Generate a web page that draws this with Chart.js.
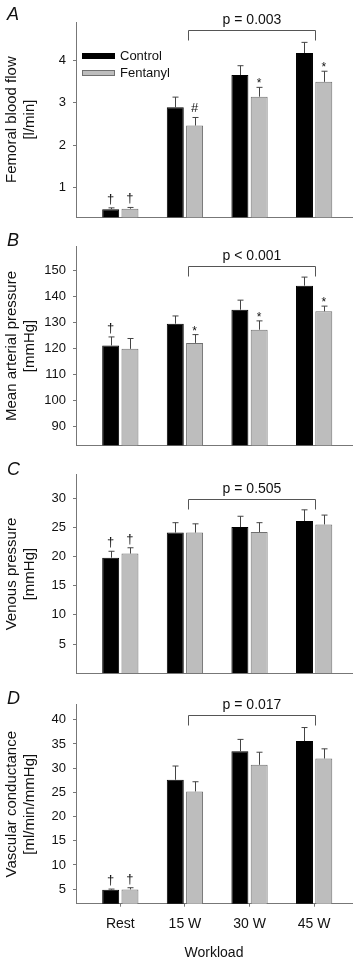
<!DOCTYPE html>
<html>
<head>
<meta charset="utf-8">
<title>Femoral haemodynamics during exercise: Control vs Fentanyl</title>
<script src="https://cdn.jsdelivr.net/npm/chart.js"></script>
<style>
  body { margin: 0; background: #fff; }
  #wrap { position: relative; width: 360px; height: 963px; }
  .panel { position: absolute; left: 0; width: 360px; }
  canvas { display: block; }
</style>
</head>
<body>
<div id="wrap">
  <div class="panel" style="top:0"><canvas id="chartA" width="360" height="232"></canvas></div>
  <div class="panel" style="top:232px"><canvas id="chartB" width="360" height="228"></canvas></div>
  <div class="panel" style="top:460px"><canvas id="chartC" width="360" height="230"></canvas></div>
  <div class="panel" style="top:690px"><canvas id="chartD" width="360" height="273"></canvas></div>
</div>
<script>
const workloads = ['Rest', '15 W', '30 W', '45 W'];
const groupNames = ['Control', 'Fentanyl'];

// A: femoral blood flow [l/min]
const flowControl = [0.49, 2.89, 3.65, 4.17];
const flowControlErr = [0.03, 0.24, 0.22, 0.25];
const flowFentanyl = [0.50, 2.46, 3.14, 3.49];
const flowFentanylErr = [0.03, 0.19, 0.22, 0.25];
const flowMarksControl = ['†', '', '', ''];
const flowMarksFentanyl = ['†', '#', '*', '*'];
const flowTicks = [1, 2, 3, 4];
const flowP = 'p = 0.003';

// B: mean arterial pressure [mmHg]
const mapControl = [121.1, 129.5, 134.9, 144.2];
const mapControlErr = [3.3, 3.0, 3.7, 3.3];
const mapFentanyl = [119.8, 122.1, 127.2, 134.3];
const mapFentanylErr = [4.0, 3.2, 3.4, 2.0];
const mapMarksControl = ['†', '', '', ''];
const mapMarksFentanyl = ['', '*', '*', '*'];
const mapTicks = [90, 100, 110, 120, 130, 140, 150];
const mapP = 'p < 0.001';

// C: venous pressure [mmHg]
const vpControl = [19.8, 24.1, 25.05, 26.1];
const vpControlErr = [1.1, 1.7, 1.85, 1.9];
const vpFentanyl = [20.5, 24.1, 24.2, 25.5];
const vpFentanylErr = [1.0, 1.5, 1.6, 1.6];
const vpMarksControl = ['†', '', '', ''];
const vpMarksFentanyl = ['†', '', '', ''];
const vpTicks = [5, 10, 15, 20, 25, 30];
const vpP = 'p = 0.505';

// D: vascular conductance [ml/min/mmHg]
const vcControl = [4.9, 27.6, 33.5, 35.6];
const vcControlErr = [0.12, 2.85, 2.45, 2.8];
const vcFentanyl = [4.95, 25.2, 30.7, 32.0];
const vcFentanylErr = [0.35, 2.0, 2.6, 2.0];
const vcMarksControl = ['†', '', '', ''];
const vcMarksFentanyl = ['†', '', '', ''];
const vcTicks = [5, 10, 15, 20, 25, 30, 35, 40];
const vcP = 'p = 0.017';

const FONT = "'Liberation Sans', Arial, Helvetica, sans-serif";
const AXIS = '#777';
const GREY = '#bdbdbd';
Chart.defaults.font.family = FONT;
Chart.defaults.color = '#111';

const panels = [
  { id: 'chartA', letter: 'A', letterY: 15, title: ['Femoral blood flow', '[l/min]'],
    yMin: 0.3, yMax: 4.9, ticks: flowTicks, bracketAt: 4.70, p: flowP,
    control: flowControl, controlErr: flowControlErr, controlMarks: flowMarksControl,
    fentanyl: flowFentanyl, fentanylErr: flowFentanylErr, fentanylMarks: flowMarksFentanyl,
    padTop: 22, padBottom: 11.3, xHeight: 0, legend: true, showX: false },
  { id: 'chartB', letter: 'B', letterY: 9, title: ['Mean arterial pressure', '[mmHg]'],
    yMin: 82.6, yMax: 159.2, ticks: mapTicks, bracketAt: 151.6, p: mapP,
    control: mapControl, controlErr: mapControlErr, controlMarks: mapMarksControl,
    fentanyl: mapFentanyl, fentanylErr: mapFentanylErr, fentanylMarks: mapMarksFentanyl,
    padTop: 13, padBottom: 13.3, xHeight: 0, legend: false, showX: false },
  { id: 'chartC', letter: 'C', letterY: 10, title: ['Venous pressure', '[mmHg]'],
    yMin: 0, yMax: 34, ticks: vpTicks, bracketAt: 29.8, p: vpP,
    control: vpControl, controlErr: vpControlErr, controlMarks: vpMarksControl,
    fentanyl: vpFentanyl, fentanylErr: vpFentanylErr, fentanylMarks: vpMarksFentanyl,
    padTop: 13, padBottom: 16.7, xHeight: 0, legend: false, showX: false },
  { id: 'chartD', letter: 'D', letterY: 9, title: ['Vascular conductance', '[ml/min/mmHg]'],
    yMin: 2.0, yMax: 43.1, ticks: vcTicks, bracketAt: 40.9, p: vcP,
    control: vcControl, controlErr: vcControlErr, controlMarks: vcMarksControl,
    fentanyl: vcFentanyl, fentanylErr: vcFentanylErr, fentanylMarks: vcMarksFentanyl,
    padTop: 13.3, padBottom: 0, xHeight: 59.3, legend: false, showX: true }
];

// error bars, significance marks, bracket, panel letter, legend
const annotate = {
  id: 'annotate',
  afterDatasetsDraw(chart) {
    const p = chart.options.plugins.annotate;
    const ctx = chart.ctx;
    const xs = chart.scales.x, ys = chart.scales.y;
    const lift = { '†': 5, '#': 5, '*': 0 };
    ctx.save();
    chart.data.datasets.forEach((ds, d) => {
      chart.getDatasetMeta(d).data.forEach((bar, i) => {
        const top = ys.getPixelForValue(ds.data[i].y + ds.err[i]);
        const bx = Math.round(bar.x) + 0.5;
        ctx.strokeStyle = '#444';
        ctx.lineWidth = 1;
        ctx.beginPath();
        ctx.moveTo(bx, bar.y);
        ctx.lineTo(bx, top);
        ctx.moveTo(bx - 3, top);
        ctx.lineTo(bx + 3, top);
        ctx.stroke();
        const m = ds.marks[i];
        if (m) {
          ctx.fillStyle = '#111';
          ctx.font = (m === '*' ? '12px ' : '13px ') + FONT;
          ctx.textAlign = 'center';
          ctx.textBaseline = 'alphabetic';
          ctx.fillText(m, bar.x, top - lift[m]);
        }
      });
    });

    // bracket 15 W .. 45 W
    const x1 = Math.round(xs.getPixelForValue(1) + 3) + 0.5;
    const x2 = Math.round(xs.getPixelForValue(3) + 1) + 0.5;
    const by = Math.round(ys.getPixelForValue(p.bracketAt)) + 0.5;
    ctx.strokeStyle = '#555';
    ctx.beginPath();
    ctx.moveTo(x1, by + 10);
    ctx.lineTo(x1, by);
    ctx.lineTo(x2, by);
    ctx.lineTo(x2, by + 10);
    ctx.stroke();
    ctx.fillStyle = '#111';
    ctx.font = '14px ' + FONT;
    ctx.textAlign = 'center';
    ctx.textBaseline = 'middle';
    ctx.fillText(p.text, (x1 + x2) / 2, by - 10);

    // panel letter
    ctx.font = 'italic 18px ' + FONT;
    ctx.textAlign = 'left';
    ctx.fillText(p.letter, 7, p.letterY);

    if (p.legend) {
      ctx.font = '13px ' + FONT;
      chart.data.datasets.forEach((ds, d) => {
        const ly = 53 + d * 17;
        ctx.fillStyle = ds.backgroundColor;
        ctx.fillRect(82, ly, 33, 6);
        ctx.strokeStyle = ds.borderColor;
        ctx.strokeRect(82.5, ly + 0.5, 32, 5);
        ctx.fillStyle = '#111';
        ctx.textAlign = 'left';
        ctx.textBaseline = 'middle';
        ctx.fillText(ds.label, 120, ly + 3);
      });
    }
    ctx.restore();
  }
};

function pts(values) {
  return values.map((v, i) => ({ x: i, y: v }));
}

panels.forEach(cfg => {
  new Chart(document.getElementById(cfg.id), {
    type: 'bar',
    data: {
      datasets: [
        { label: groupNames[0], data: pts(cfg.control), err: cfg.controlErr, marks: cfg.controlMarks,
          backgroundColor: '#000', borderColor: '#000', borderWidth: 1 },
        { label: groupNames[1], data: pts(cfg.fentanyl), err: cfg.fentanylErr, marks: cfg.fentanylMarks,
          backgroundColor: GREY, borderColor: '#707070', borderWidth: 1 }
      ]
    },
    plugins: [annotate],
    options: {
      responsive: false,
      animation: false,
      events: [],
      layout: { padding: { top: cfg.padTop, bottom: cfg.padBottom, left: 0, right: 8 } },
      datasets: { bar: { categoryPercentage: 0.597, barPercentage: 0.88 } },
      plugins: {
        legend: { display: false },
        tooltip: { enabled: false },
        annotate: { bracketAt: cfg.bracketAt, text: cfg.p, letter: cfg.letter,
                    letterY: cfg.letterY, legend: cfg.legend }
      },
      scales: {
        x: {
          type: 'linear',
          min: -0.686,
          max: 3.586,
          offset: false,
          afterBuildTicks: s => { s.ticks = workloads.map((w, i) => ({ value: i })); },
          afterFit: s => { s.height = cfg.xHeight; },
          grid: { display: cfg.showX, drawOnChartArea: false, offset: false, tickLength: 3, color: AXIS },
          border: { display: true, color: AXIS, width: 1 },
          ticks: { display: cfg.showX, autoSkip: false, maxRotation: 0, padding: 9,
                   font: { size: 14 }, color: '#111', callback: v => workloads[v] },
          title: { display: cfg.showX, text: 'Workload', font: { size: 14 }, color: '#111',
                   padding: { top: 0, bottom: 1 } }
        },
        y: {
          min: cfg.yMin,
          max: cfg.yMax,
          afterBuildTicks: s => { s.ticks = cfg.ticks.map(v => ({ value: v })); },
          afterFit: s => { s.width = 76; },
          grid: { drawOnChartArea: false, tickLength: 3, color: AXIS },
          border: { display: true, color: AXIS, width: 1 },
          ticks: { padding: 7, font: { size: 13 }, color: '#111' },
          title: { display: true, text: cfg.title, font: { size: 15, lineHeight: 1.2 }, color: '#111',
                   padding: { top: 3, bottom: 0 } }
        }
      }
    }
  });
});
</script>
</body>
</html>
